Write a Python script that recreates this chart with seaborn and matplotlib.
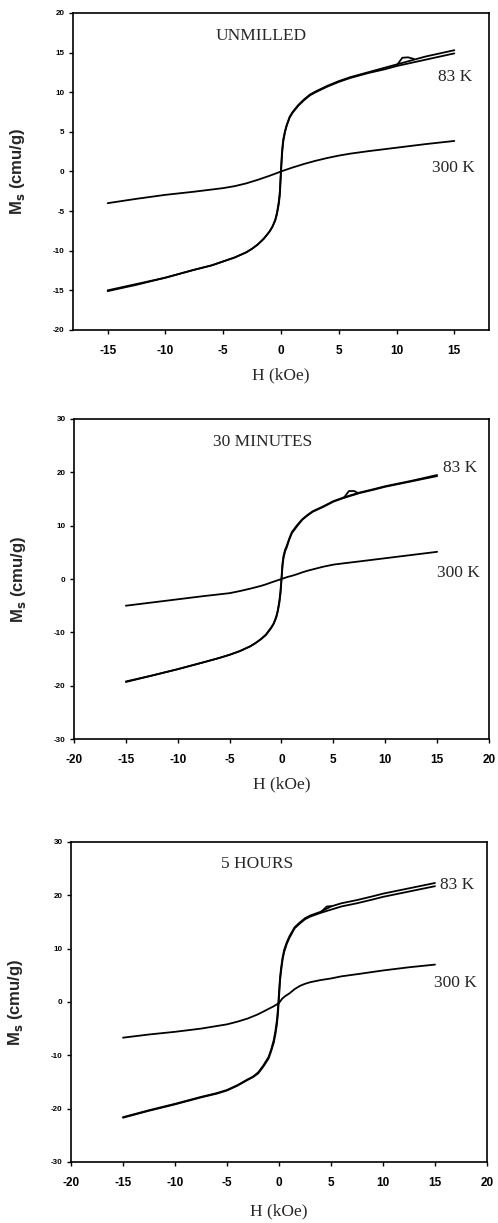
import matplotlib
matplotlib.use("Agg")
import matplotlib.pyplot as plt
import pandas as pd
import seaborn as sns

# ---------------------------------------------------------------
# Magnetisation loops M_s(H) at 83 K and 300 K for three samples
# ---------------------------------------------------------------

# Field points (kOe) used for the 83 K branches
field_83 = [-15, -12.5, -10, -7.5, -6, -5, -4, -3, -2.5, -2, -1.5, -1, -0.75, -0.5, -0.35,
            -0.2, -0.1, 0, 0.1, 0.2, 0.35, 0.5, 0.75, 1, 1.5, 2, 2.5, 3, 4, 5, 6, 7.5, 9, 10,
            12.5, 15]
# Field points (kOe) used for the 300 K curves
field_300 = [-15, -12.5, -10, -7.5, -5, -4, -3, -2, -1.5, -1, -0.5, 0, 0.3, 0.6, 1, 1.5, 2,
             2.5, 3, 4, 5, 6, 7.5, 10, 12.5, 15]

# --- Unmilled sample ---
unmilled_83_up = [-15.0, -14.2, -13.4, -12.4, -11.85, -11.35, -10.85, -10.2, -9.75, -9.2,
                  -8.5, -7.6, -7.0, -6.2, -5.4, -4.2, -3.0, -0.2, 2.3, 3.8, 5.0, 5.8, 6.8,
                  7.4, 8.3, 9.0, 9.6, 10.0, 10.7, 11.3, 11.8, 12.4, 12.9, 13.3, 14.1, 14.9]
unmilled_83_down = [-15.1, -14.3, -13.4, -12.4, -11.85, -11.35, -10.85, -10.2, -9.75, -9.2,
                    -8.5, -7.6, -7.0, -6.1, -5.2, -3.9, -2.5, 0.4, 2.8, 4.1, 5.1, 5.9, 6.9,
                    7.5, 8.4, 9.1, 9.7, 10.1, 10.8, 11.4, 11.9, 12.5, 13.1, 13.5, 14.5, 15.3]
unmilled_83_kink_H = [10.0, 10.5, 11.0, 11.5]
unmilled_83_kink_M = [13.35, 14.35, 14.4, 14.2]
unmilled_300 = [-4.0, -3.45, -2.95, -2.55, -2.1, -1.85, -1.5, -1.05, -0.8, -0.55, -0.28, 0.0,
                0.15, 0.3, 0.5, 0.72, 0.95, 1.15, 1.35, 1.7, 2.0, 2.25, 2.55, 3.0, 3.45, 3.85]

# --- Milled 30 minutes ---
min30_83_up = [-19.2, -18.1, -16.9, -15.6, -14.8, -14.2, -13.5, -12.6, -12.0, -11.3, -10.5,
               -9.2, -8.4, -7.2, -6.0, -4.4, -2.8, -0.3, 2.5, 4.0, 5.2, 5.9, 7.4, 8.6, 9.9,
               11.1, 11.9, 12.6, 13.5, 14.5, 15.2, 16.1, 16.8, 17.3, 18.3, 19.3]
min30_83_down = [-19.3, -18.1, -16.9, -15.6, -14.8, -14.2, -13.5, -12.6, -12.0, -11.3, -10.4,
                 -9.1, -8.3, -7.0, -5.8, -4.0, -2.3, 0.3, 3.0, 4.4, 5.5, 6.2, 7.6, 8.8, 10.1,
                 11.2, 12.0, 12.7, 13.6, 14.6, 15.3, 16.2, 16.9, 17.4, 18.4, 19.5]
min30_83_kink_H = [6.0, 6.5, 7.0, 7.4]
min30_83_kink_M = [15.2, 16.5, 16.5, 16.1]
min30_300 = [-5.0, -4.4, -3.8, -3.2, -2.65, -2.25, -1.8, -1.3, -1.0, -0.65, -0.32, 0.0, 0.2,
             0.4, 0.6, 0.9, 1.25, 1.55, 1.8, 2.3, 2.7, 2.95, 3.3, 3.9, 4.5, 5.1]

# --- Milled 5 hours ---
hr5_83_up = [-21.7, -20.4, -19.2, -17.9, -17.2, -16.6, -15.7, -14.6, -14.1, -13.4, -12.1,
             -10.6, -9.2, -7.6, -6.1, -4.2, -2.2, 0.8, 4.0, 5.8, 8.0, 9.4, 10.9, 12.0, 13.8,
             14.7, 15.5, 16.0, 16.7, 17.3, 17.9, 18.5, 19.2, 19.7, 20.7, 21.7]
hr5_83_down = [-21.6, -20.3, -19.1, -17.8, -17.1, -16.5, -15.6, -14.5, -14.0, -13.2, -11.9,
               -10.3, -8.9, -7.1, -5.5, -3.4, -1.2, 1.8, 4.6, 6.4, 8.4, 9.8, 11.2, 12.3, 14.0,
               14.9, 15.7, 16.2, 16.9, 17.9, 18.5, 19.1, 19.8, 20.3, 21.3, 22.3]
hr5_83_kink_H = [4.0, 4.6, 5.0]
hr5_83_kink_M = [16.8, 17.9, 17.95]
hr5_300 = [-6.7, -6.1, -5.6, -5.0, -4.2, -3.7, -3.1, -2.3, -1.8, -1.3, -0.8, -0.2, 0.6, 1.1,
           1.6, 2.4, 3.0, 3.4, 3.7, 4.1, 4.4, 4.8, 5.2, 5.9, 6.5, 7.0]

panel_titles = ["UNMILLED", "30 MINUTES", "5 HOURS"]
temp_labels = ["83 K", "300 K"]
x_tick_sets = [[-15, -10, -5, 0, 5, 10, 15], [-20, -15, -10, -5, 0, 5, 10, 15, 20],
               [-20, -15, -10, -5, 0, 5, 10, 15, 20]]
y_tick_sets = [[-20, -15, -10, -5, 0, 5, 10, 15, 20], [-30, -20, -10, 0, 10, 20, 30],
               [-30, -20, -10, 0, 10, 20, 30]]
x_label = "H (kOe)"
y_label = r"M$_\mathbf{s}$ (cmu/g)"


def loop_frame(branches):
    rows = []
    for name, hs, ms in branches:
        for i, (h, m) in enumerate(zip(hs, ms)):
            rows.append({"H": h, "M": m, "branch": name, "order": i})
    return pd.DataFrame(rows)


def panel_frame(up, down, kink_h, kink_m, m300):
    return loop_frame([
        ("83 K ascending", field_83, up),
        ("83 K descending", field_83[::-1], down[::-1]),
        ("83 K kink", kink_h, kink_m),
        ("300 K", field_300, m300),
    ])


panels = [
    panel_frame(unmilled_83_up, unmilled_83_down, unmilled_83_kink_H, unmilled_83_kink_M, unmilled_300),
    panel_frame(min30_83_up, min30_83_down, min30_83_kink_H, min30_83_kink_M, min30_300),
    panel_frame(hr5_83_up, hr5_83_down, hr5_83_kink_H, hr5_83_kink_M, hr5_300),
]

sns.set_style("ticks")
serif = ["Liberation Serif", "DejaVu Serif"]
sans = ["Liberation Sans", "DejaVu Sans"]
plt.rcParams["font.family"] = sans

fig = plt.figure(figsize=(4.98, 12.23), dpi=100)
fig.patch.set_facecolor("white")

axes_rects = [
    [0.1466, 0.7302, 0.8353, 0.2592],
    [0.1486, 0.3957, 0.8333, 0.2617],
    [0.1426, 0.0499, 0.8353, 0.2617],
]
x_limits = [(-18, 18), (-20, 20), (-20, 20)]
y_limits = [(-20, 20), (-30, 30), (-30, 30)]

# text placement (data coordinates) per panel: title, 83 K, 300 K
title_pos = [(-1.7, 17.1), (-1.8, 25.7), (-2.1, 25.8)]
k83_pos = [(15.1, 11.9), (17.2, 20.9), (17.1, 22.0)]
k300_pos = [(14.9, 0.4), (17.1, 1.1), (17.0, 3.5)]
xlabel_y = [-0.117, -0.116, -0.128]

for idx, df in enumerate(panels):
    ax = fig.add_axes(axes_rects[idx])
    sns.lineplot(data=df, x="H", y="M", units="branch", estimator=None,
                 sort=False, color="black", linewidth=1.3, ax=ax, legend=False)
    ax.set_xlim(*x_limits[idx])
    ax.set_ylim(*y_limits[idx])
    ax.set_xticks(x_tick_sets[idx])
    ax.set_yticks(y_tick_sets[idx])
    ax.set_xticklabels([str(t) for t in x_tick_sets[idx]], fontsize=8.5,
                       fontweight="bold", family=sans)
    ax.set_yticklabels([str(t) for t in y_tick_sets[idx]], fontsize=5.8,
                       fontweight="bold", family=sans)
    ax.tick_params(axis="x", direction="out", length=3, width=1.0, pad=8, colors="black")
    ax.tick_params(axis="y", direction="out", length=3, width=1.0, pad=3, colors="black")
    for sp in ax.spines.values():
        sp.set_visible(True)
        sp.set_linewidth(1.2)
        sp.set_color("black")

    ax.set_xlabel(x_label, fontsize=12.5, family=serif)
    ax.xaxis.set_label_coords(0.5, xlabel_y[idx])
    ax.set_ylabel(y_label, fontsize=12, fontweight="bold", family=sans)
    ax.yaxis.set_label_coords(-0.11, 0.5)

    ax.text(*title_pos[idx], panel_titles[idx], fontsize=12.5, family=serif,
            ha="center", va="center")
    ax.text(*k83_pos[idx], temp_labels[0], fontsize=12.5, family=serif,
            ha="center", va="center")
    ax.text(*k300_pos[idx], temp_labels[1], fontsize=12.5, family=serif,
            ha="center", va="center")

fig.savefig("out.png", dpi=100, facecolor="white")
